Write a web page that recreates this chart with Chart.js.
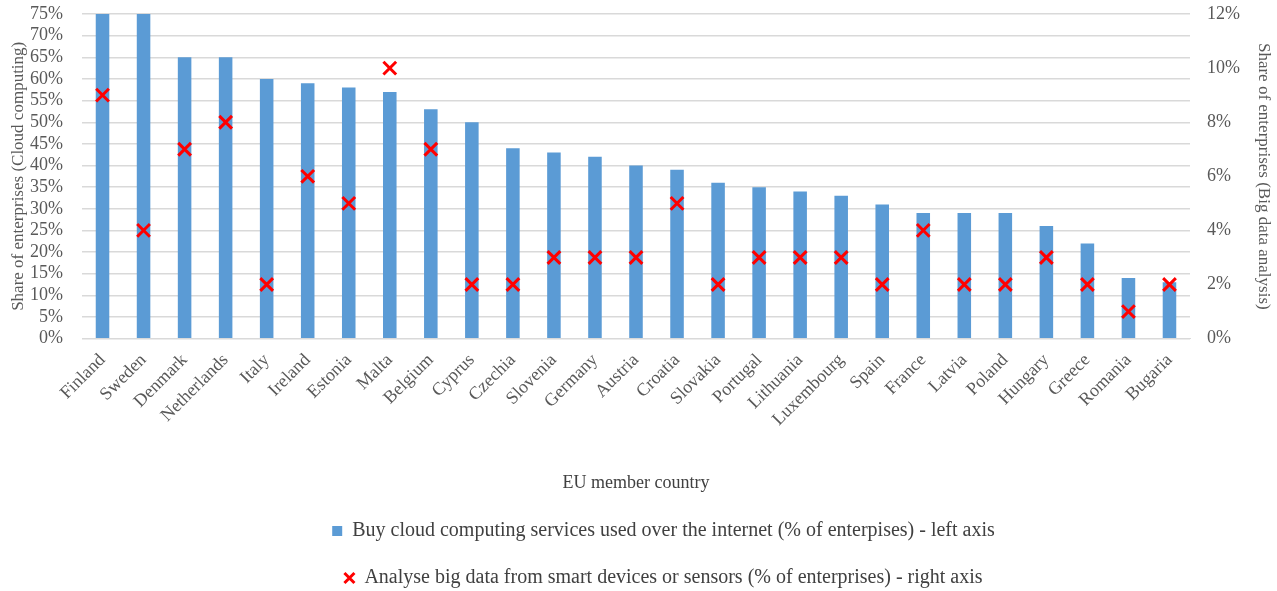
<!DOCTYPE html>
<html>
<head>
<meta charset="utf-8">
<script src="https://cdn.jsdelivr.net/npm/chart.js@4/dist/chart.umd.min.js"></script>
<style>
  html, body { margin: 0; padding: 0; background: #fff; }
  #wrap { width: 1277px; height: 591px; position: relative; }
</style>
</head>
<body>
<div id="wrap"><canvas id="chart"></canvas></div>
<script>
const countries = ['Finland', 'Sweden', 'Denmark', 'Netherlands', 'Italy', 'Ireland', 'Estonia', 'Malta', 'Belgium', 'Cyprus', 'Czechia', 'Slovenia', 'Germany', 'Austria', 'Croatia', 'Slovakia', 'Portugal', 'Lithuania', 'Luxembourg', 'Spain', 'France', 'Latvia', 'Poland', 'Hungary', 'Greece', 'Romania', 'Bugaria'];
const cloudComputing = [75, 75, 65, 65, 60, 59, 58, 57, 53, 50, 44, 43, 42, 40, 39, 36, 35, 34, 33, 31, 29, 29, 29, 26, 22, 14, 13];
const bigData = [9, 4, 7, 8, 2, 6, 5, 10, 7, 2, 2, 3, 3, 3, 5, 2, 3, 3, 3, 2, 4, 2, 2, 3, 2, 1, 2];

const serif = '"Liberation Serif", "Times New Roman", serif';
const tickColor = '#595959';

// tick padding also gets added to the top padding of vertical axes, so pin it
function fixAxis(width) {
  return (scale) => {
    scale.width = width;
    scale.paddingTop = 14;
    scale.paddingBottom = 11;
  };
}

// legend in the reference sits a bit right of the canvas centre
const shiftLegend = {
  id: 'shiftLegend',
  afterLayout(chart) {
    chart.legend.left += 50;
  }
};

new Chart(document.getElementById('chart'), {
  type: 'bar',
  data: {
    labels: countries,
    datasets: [
      {
        type: 'line',
        label: 'Analyse big data from smart devices or sensors (% of enterprises) - right axis',
        data: bigData,
        yAxisID: 'y2',
        showLine: false,
        pointStyle: 'crossRot',
        pointRadius: 9,
        pointBorderWidth: 3,
        borderColor: '#ff0000',
        backgroundColor: '#ff0000',
        order: 0
      },
      {
        type: 'bar',
        label: 'Buy cloud computing services used over the internet (% of enterpises) - left axis',
        data: cloudComputing,
        yAxisID: 'y',
        backgroundColor: '#5b9bd5',
        barPercentage: 0.33,
        categoryPercentage: 1,
        pointStyle: 'rect',
        order: 1
      }
    ]
  },
  plugins: [shiftLegend],
  options: {
    responsive: true,
    maintainAspectRatio: false,
    animation: false,
    layout: { padding: { top: 0, left: 0, right: 0, bottom: -7 } },
    plugins: {
      tooltip: { enabled: false },
      legend: {
        position: 'bottom',
        reverse: true,
        labels: {
          font: { family: serif, size: 20 },
          color: '#404040',
          usePointStyle: true,
          boxWidth: 10,
          boxHeight: 10,
          padding: 27
        }
      }
    },
    scales: {
      x: {
        grid: { display: false },
        border: { color: '#d9d9d9' },
        ticks: { font: { family: serif, size: 18 }, color: tickColor, minRotation: 45, maxRotation: 45, autoSkip: false },
        title: { display: true, text: 'EU member country', font: { family: serif, size: 18 }, color: '#404040', padding: { top: 39, bottom: 0 } }
      },
      y: {
        position: 'left',
        min: 0,
        max: 75,
        afterFit: fixAxis(82),
        ticks: { stepSize: 5, autoSkip: false, callback: (value) => value + '%', font: { family: serif, size: 18 }, color: tickColor, padding: 19 },
        grid: { color: '#d9d9d9', lineWidth: 1.4, drawTicks: false },
        border: { display: false },
        title: { display: true, text: 'Share of enterprises (Cloud computing)', font: { family: serif, size: 17 }, color: tickColor, padding: { top: 8, bottom: 0 } }
      },
      y2: {
        position: 'right',
        min: 0,
        max: 12,
        afterFit: fixAxis(87),
        ticks: { stepSize: 2, autoSkip: false, callback: (value) => value + '%', font: { family: serif, size: 18 }, color: tickColor, padding: 17 },
        grid: { display: false, drawTicks: false },
        border: { display: false },
        title: { display: true, text: 'Share of enterprises (Big data analysis)', font: { family: serif, size: 17 }, color: tickColor, padding: { top: 3, bottom: 0 } }
      }
    }
  }
});
</script>
</body>
</html>
